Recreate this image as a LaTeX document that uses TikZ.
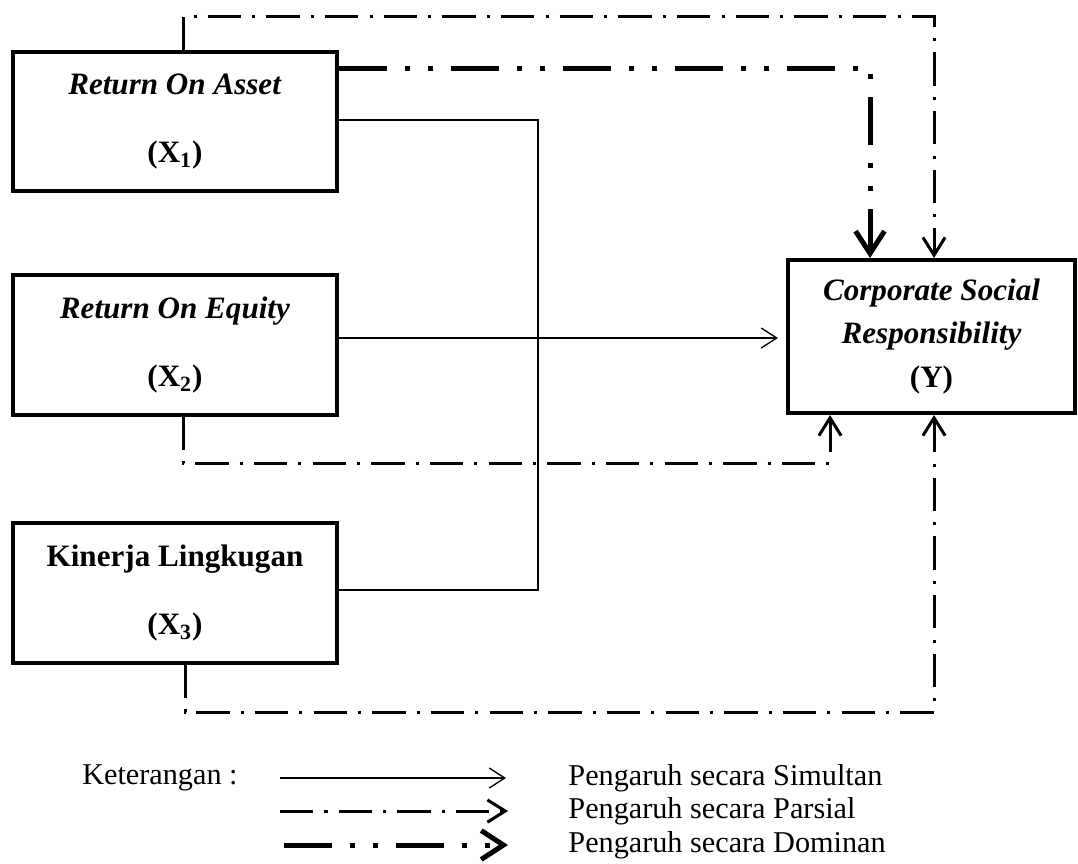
\documentclass[tikz,border=0pt]{standalone}
\usepackage{fontspec}
\setmainfont{Liberation Serif}
\usetikzlibrary{arrows.meta}

\begin{document}
\begin{tikzpicture}[x=0.45pt,y=-0.45pt,
kotak/.style={draw,line width=1.8pt,minimum width=145.8pt,minimum height=62.6pt,
  align=center,inner sep=0pt,font=\fontsize{14}{17}\selectfont},
simultan/.style={line width=0.6pt,-{Straight Barb[length=7pt,width=9pt]}},
parsial/.style={line width=1.35pt,dash pattern=on 15pt off 5pt on 1.4pt off 5pt},
dominan/.style={line width=2.25pt,
  dash pattern=on 21.6pt off 8.1pt on 2.25pt off 8.1pt on 2.25pt off 8.1pt},
ket/.style={inner sep=0pt,font=\fontsize{13.6}{15}\selectfont}]
\useasboundingbox (0,0) rectangle (1078,863);
\path
(175,121.5) node[kotak] (X1) {\textbf{\textit{Return On Asset}}\\[14pt]\textbf{(X\textsubscript{1})}}
(175,345) node[kotak] (X2) {\textbf{\textit{Return On Equity}}\\[14pt]\textbf{(X\textsubscript{2})}}
(175,593) node[kotak] (X3) {\textbf{Kinerja Lingkugan}\\[14pt]\textbf{(X\textsubscript{3})}}
(931.5,336.5) node[kotak,minimum width=129.2pt,minimum height=68.9pt] (Y)
  {\textbf{\textit{Corporate Social}}\\[2.5pt]\textbf{\textit{Responsibility}}\\[2.5pt]\textbf{(Y)}}
% titik belok garis
(538,120) coordinate (s1)
(538,338) coordinate (s2)
(538,590) coordinate (s3)
(183,16) coordinate (a1)
(934,16) coordinate (a2)
(870,68) coordinate (d1)
(183,463) coordinate (b1)
(830,463) coordinate (b2)
(185,712) coordinate (c1)
(934,712) coordinate (c2)
% keterangan
(238,778) node[ket,anchor=east] (ket) {Keterangan :}
(280,778) coordinate (ks1) (506,778) coordinate (ks2)
(280,811) coordinate (kp1) (508,811) coordinate (kp2)
(284,845) coordinate (kd1) (508,845) coordinate (kd2)
(568,778) node[ket,anchor=west] (ls) {Pengaruh secara Simultan}
(568,811) node[ket,anchor=west] (lp) {Pengaruh secara Parsial}
(568,845) node[ket,anchor=west] (ld) {Pengaruh secara Dominan};
% simultan
\draw[line width=0.6pt] (X1.east |- s1) -- (s1) -- (s3) -- (X3.east |- s3);
\draw[simultan,shorten >=3.6pt] (X2.east |- s2) -- (Y.west |- s2);
% parsial
\draw[parsial,-{Straight Barb[length=8pt,width=10pt]}] (X1.north -| a1) -- (a1) -- (a2) -- (Y.north -| a2);
\draw[parsial,-{Straight Barb[length=8pt,width=10pt]}] (X2.south -| b1) -- (b1) -- (b2) -- (Y.south -| b2);
\draw[parsial,-{Straight Barb[length=8pt,width=10pt]}] (X3.south -| c1) -- (c1) -- (c2) -- (Y.south -| c2);
% dominan
\draw[dominan,-{Straight Barb[length=10pt,width=13pt]}] (X1.east |- d1) -- (d1) -- (Y.north -| d1);
% garis keterangan
\draw[simultan] (ks1) -- (ks2);
\draw[parsial,-{Straight Barb[length=8pt,width=10pt]}] (kp1) -- (kp2);
\draw[dominan,-{Straight Barb[length=10pt,width=13pt]}] (kd1) -- (kd2);
\end{tikzpicture}
\end{document}
